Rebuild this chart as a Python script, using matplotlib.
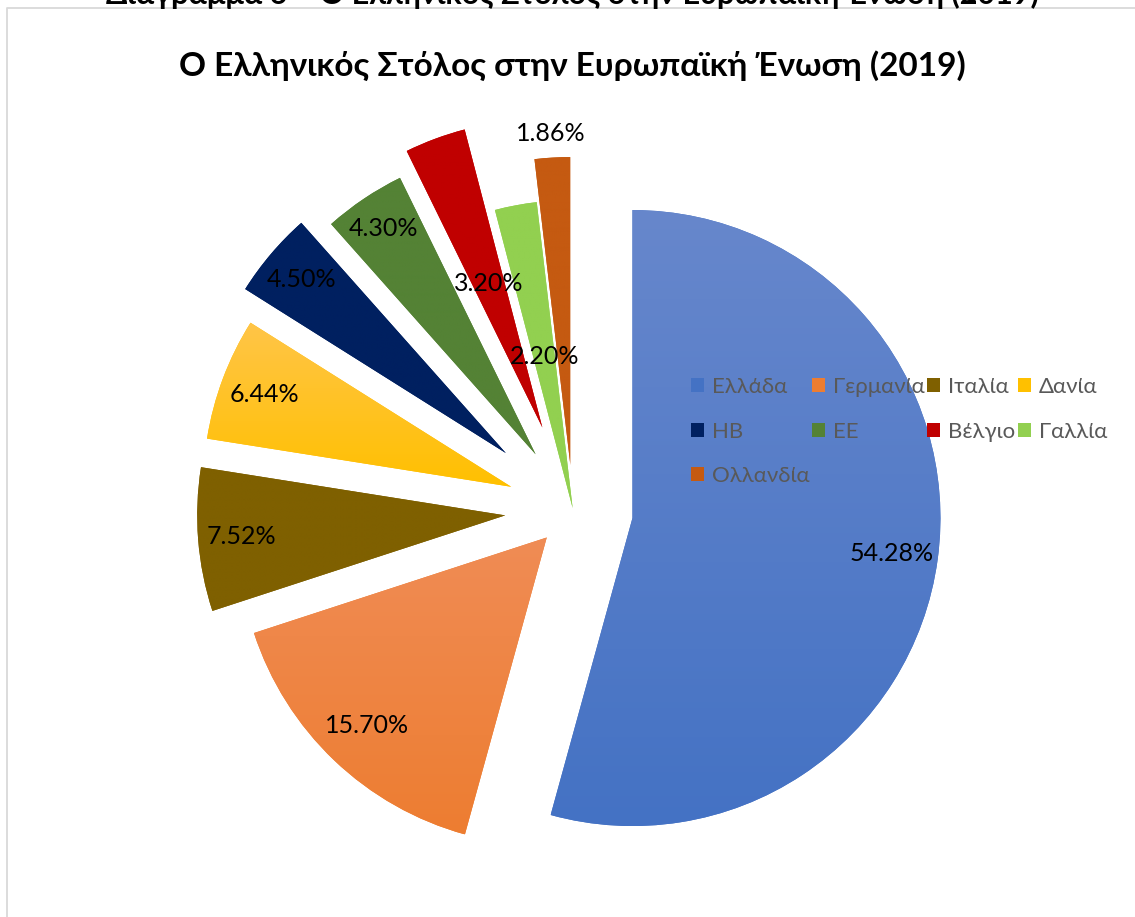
import numpy as np
import matplotlib
matplotlib.use("Agg")
import matplotlib.pyplot as plt
from matplotlib.colors import to_rgb

# ── data ─────────────────────────────────────────────────────────────────────
countries = ["Ελλάδα", "Γερμανία", "Ιταλία", "Δανία", "ΗΒ", "ΕΕ",
             "Βέλγιο", "Γαλλία", "Ολλανδία"]
shares = [54.28, 15.70, 7.52, 6.44, 4.50, 4.30, 3.20, 2.20, 1.86]

colors = ["#4472C4", "#ED7D31", "#7F6000", "#FFC000", "#002060",
          "#548235", "#C00000", "#92D050", "#C55A11"]
top_colors = ["#6787CC", "#F08C55", "#7F6000", "#FFC548", "#002060",
              "#548235", "#C00000", "#92D050", "#C55A11"]

# explosion (pixels) and label distance (fraction of radius)
explode = [60, 38, 68, 66, 88, 67, 88, 2, 45]
label_dist = [0.85, 0.845, 0.86, 0.855, 0.87, 0.885, 0.5, 0.5, 1.08]

W, H = 1135, 917
FONT = ["Lato", "Open Sans", "DejaVu Sans"]
plt.rcParams["font.family"] = FONT

fig = plt.figure(figsize=(W / 100, H / 100), dpi=100)
ax = fig.add_axes([0, 0, 1, 1])

center = (573, H - 510)
radius = 308
wedges, _ = ax.pie(shares, explode=explode, colors=colors, startangle=90,
                   counterclock=False, radius=radius, center=center,
                   wedgeprops=dict(linewidth=0))

# vertical gradient fill, clipped to each wedge
for w, c_top, c_bot in zip(wedges, top_colors, colors):
    ext = w.get_path().get_extents()
    t, b = np.array(to_rgb(c_top)), np.array(to_rgb(c_bot))
    g = np.linspace(0, 1, 256)[:, None]
    img = (t[None, :] * (1 - g) + b[None, :] * g)[:, None, :]
    im = ax.imshow(img, extent=(ext.x0, ext.x1, ext.y0, ext.y1),
                   origin="upper", aspect="auto", interpolation="bilinear",
                   zorder=w.get_zorder() + 0.1)
    im.set_clip_path(w)

# percentage labels
for w, d, v in zip(wedges, label_dist, shares):
    th = np.deg2rad((w.theta1 + w.theta2) / 2)
    cx, cy = w.center
    ax.text(cx + d * w.r * np.cos(th), cy + d * w.r * np.sin(th), f"{v:.2f}%",
            ha="center", va="center", fontsize=18, color="black", zorder=5)

# legend, row-major like the original
order = [0, 4, 8, 1, 5, 2, 6, 3, 7]
leg = ax.legend([wedges[i] for i in order], [countries[i] for i in order],
                ncol=4, loc="upper left", bbox_to_anchor=(680, H - 366),
                bbox_transform=ax.transData, frameon=False, fontsize=16,
                handlelength=0.6, handleheight=0.6, handletextpad=0.35,
                columnspacing=0.1, labelspacing=1.1, borderpad=0,
                labelcolor="#595959")

# chart border (only top and left visible)
ax.plot([7, 7, W + 10], [-10, H - 8, H - 8], color="#D9D9D9", lw=1.3,
        clip_on=False, zorder=1)

ax.set_xlim(0, W)
ax.set_ylim(0, H)
ax.set_aspect("equal")
ax.axis("off")

ax.text(572, H - 66, "Ο Ελληνικός Στόλος στην Ευρωπαϊκή Ένωση (2019)",
        ha="center", va="center", fontsize=24, fontweight="bold", color="black")
fig.text(572 / W, (H - 4) / H,
         "Διάγραμμα 6 – Ο Ελληνικός Στόλος στην Ευρωπαϊκή Ένωση (2019)",
         ha="center", va="baseline", fontsize=22, fontweight="bold", color="black")

fig.savefig("out.png", dpi=100)
